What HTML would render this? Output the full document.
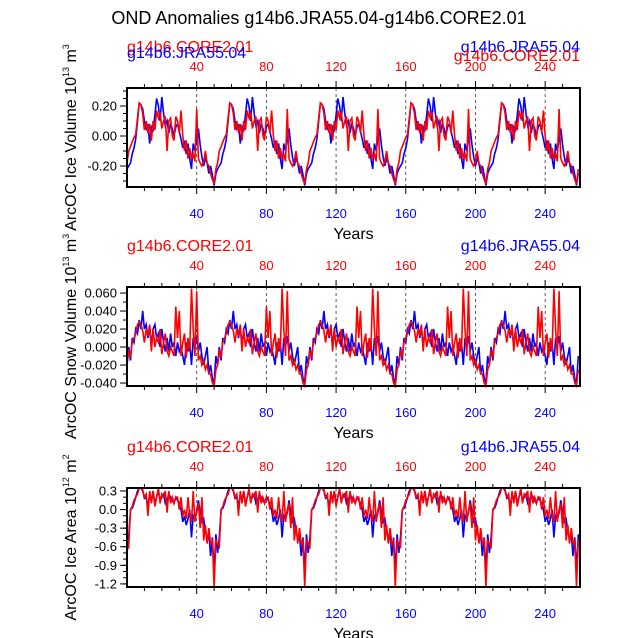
<!DOCTYPE html>
<html><head><meta charset="utf-8"><style>body{margin:0;background:#fff}svg{display:block}</style></head>
<body>
<svg id="c" width="638" height="638" xmlns="http://www.w3.org/2000/svg" font-family="Liberation Sans, sans-serif"></svg>
<script>
const years = Array.from({length:260},(_, i)=>i);
const xTicks = [40,80,120,160,200,240];
// one 52-year forcing cycle, starting at year 50 (repeats through the run)
const volJRA = [-0.33,-0.25,-0.22,-0.2,-0.18,-0.12,-0.08,-0.02,0.1,0.22,0.21,0.18,0.1,0.05,0.08,-0.05,0.06,0.04,0.14,0.25,0.2,0.1,0.26,0.15,0.07,0.1,0.02,0.08,0.05,0.0,0.06,0.08,0.03,-0.02,-0.08,-0.03,-0.12,-0.05,-0.15,-0.22,-0.05,-0.1,-0.02,0.05,-0.06,-0.14,-0.2,-0.15,-0.18,-0.25,-0.2,-0.26];
const volCORE = [-0.32,-0.22,-0.18,-0.1,-0.07,-0.04,-0.01,0.01,0.12,0.22,0.21,0.15,0.04,0.1,0.02,0.08,-0.03,0.1,0.04,0.17,0.12,0.16,0.05,0.1,0.13,-0.1,0.1,0.12,0.0,-0.03,0.13,0.1,0.02,0.17,0.0,-0.1,-0.03,-0.15,-0.08,-0.15,-0.12,-0.17,0.18,-0.15,-0.18,-0.2,-0.17,-0.1,-0.18,-0.2,-0.25,-0.29];
const snowJRA = [-0.04,-0.01,-0.02,0.0,-0.015,0.01,0.005,0.02,0.015,0.03,0.02,0.04,0.02,0.025,0.01,0.022,0.0,0.02,0.025,0.01,0.015,0.0,0.02,0.005,-0.005,0.01,-0.005,0.015,0.0,0.005,-0.01,0.005,-0.005,0.0,-0.01,-0.02,0.005,-0.005,0.005,-0.02,0.01,0.0,0.012,-0.005,0.005,-0.01,-0.02,-0.01,0.0,-0.03,-0.02,-0.035];
const snowCORE = [-0.045,-0.025,-0.02,-0.005,-0.01,0.005,0.01,0.015,0.025,0.028,0.025,0.018,0.005,0.02,0.012,0.025,-0.005,0.02,0.0,0.01,0.005,0.02,-0.008,0.005,0.015,-0.005,-0.01,0.0,-0.005,-0.01,0.045,0.01,0.04,-0.01,0.005,0.015,-0.012,0.01,-0.005,0.065,0.02,-0.01,0.062,-0.015,-0.01,-0.02,-0.015,-0.025,-0.02,-0.03,-0.03,-0.04];
const areaJRA = [-1.0,-0.4,-0.7,-0.45,0.0,0.02,0.1,0.2,0.3,0.35,0.35,0.3,0.18,0.2,0.05,0.25,0.15,0.3,0.1,0.2,0.3,0.15,0.2,0.25,0.1,0.15,0.25,0.2,0.15,0.1,0.2,0.15,0.1,0.0,-0.2,-0.1,-0.25,-0.15,0.0,-0.45,-0.1,-0.15,-0.05,0.15,-0.05,-0.2,-0.15,-0.35,-0.45,-0.4,-0.75,-0.45];
const areaCORE = [-1.25,-0.5,-0.55,-0.6,0.0,0.05,0.15,0.2,0.25,0.35,0.35,0.32,0.2,0.25,-0.1,0.3,0.1,0.3,0.05,0.2,0.35,0.1,0.25,0.2,0.3,-0.05,0.3,0.1,0.2,0.1,0.2,0.2,0.0,0.2,-0.1,0.0,-0.15,0.2,-0.1,-0.2,0.3,-0.2,0.0,0.1,-0.3,0.2,-0.5,-0.25,-0.55,-0.3,-0.55,-0.5];
const volTicks = [-0.2,0,0.2], volLabels=["-0.20","0.00","0.20"];
const snowTicks = [-0.04,-0.02,0,0.02,0.04,0.06], snowLabels=["-0.040","-0.020","0.000","0.020","0.040","0.060"];
const areaTicks = [-1.2,-0.9,-0.6,-0.3,0,0.3], areaLabels=["-1.2","-0.9","-0.6","-0.3","0.0","0.3"];

const NS="http://www.w3.org/2000/svg", svg=document.getElementById('c');
function mk(t,a,p){const e=document.createElementNS(NS,t);for(const k in a)e.setAttribute(k,a[k]);(p||svg).appendChild(e);return e;}
function full(cyc){return years.map(y=>cyc[(((y-50)%52)+52)%52]);}
const X0=127,X1=580,xs=y=>X0+(y-0)/(260-0)*(X1-X0);
const t=mk('text',{x:319,y:24,'text-anchor':'middle','font-size':18});t.textContent='OND Anomalies g14b6.JRA55.04-g14b6.CORE2.01';


function panel(name,top,ymin,ymax,ticks,labels,minorStep,ytitle,sup,sA,sB,stacked){
  const bot=top+99, ys=v=>bot-(v-ymin)/(ymax-ymin)*(bot-top);
  const g=mk('g',{});
  xTicks.forEach(v=>{const l=mk('line',{x1:xs(v),x2:xs(v),y1:top,y2:bot,stroke:'#333','stroke-width':0.8,'stroke-dasharray':'3,3'},g);
    });
  [[sB,'#00f'],[sA,'#f00']].forEach(([cyc,col])=>{const d=full(cyc);
    const p=mk('path',{d:d.map((v,i)=>(i?'L':'M')+xs(years[i]).toFixed(1)+','+ys(Math.max(ymin,Math.min(ymax,v))).toFixed(1)).join(''),fill:'none',stroke:col,'stroke-width':1.6},g);
    });
  const f=mk('rect',{x:X0,y:top,width:X1-X0,height:bot-top,fill:'none',stroke:'#000','stroke-width':2},g);
  
  for(let v=10;v<260;v+=10){const maj=v%40==0,L=maj?7:4;
    mk('line',{x1:xs(v),x2:xs(v),y1:top,y2:top-L,stroke:'#000','stroke-width':1},g);
    mk('line',{x1:xs(v),x2:xs(v),y1:bot,y2:bot+L,stroke:'#000','stroke-width':1},g);}
  xTicks.forEach(v=>{const a=mk('text',{x:xs(v),y:top-17,'text-anchor':'middle','font-size':13,fill:'#f00'},g);a.textContent=v;
    
    const b=mk('text',{x:xs(v),y:bot+31,'text-anchor':'middle','font-size':13,fill:'#00f'},g);b.textContent=v;
    });
  for(let v=Math.ceil(ymin/minorStep)*minorStep;v<=ymax+1e-9;v+=minorStep)mk('line',{x1:X0,x2:X0-4,y1:ys(v),y2:ys(v),stroke:'#000','stroke-width':1},g);
  ticks.forEach((v,i)=>{mk('line',{x1:X0,x2:X0-7,y1:ys(v),y2:ys(v),stroke:'#000','stroke-width':1},g);
    const a=mk('text',{x:X0-10,y:ys(v)+4.5,'text-anchor':'end','font-size':13},g);a.textContent=labels[i];
    });
  const yx=mk('text',{x:(X0+X1)/2,y:bot+52,'text-anchor':'middle','font-size':16},g);yx.textContent='Years';
  
  const yt=mk('text',{transform:`translate(76,${(top+bot)/2}) rotate(-90)`,'text-anchor':'middle','font-size':16},g);
  yt.innerHTML=ytitle+' 10<tspan font-size="9" dy="-7">'+sup+'</tspan><tspan dy="7"> m</tspan><tspan font-size="9" dy="-7">'+(sup=='12'?'2':'3')+'</tspan>';
  
  const ly=top-36;
  const l1=mk('text',{x:X0,y:ly,'font-size':16,fill:'#f00'},g);l1.textContent='g14b6.CORE2.01';
  
  const l2=mk('text',{x:X1,y:ly,'text-anchor':'end','font-size':16,fill:'#00f'},g);l2.textContent='g14b6.JRA55.04';
  
  if(stacked){const l3=mk('text',{x:X0,y:ly+6,'font-size':16,fill:'#00f'},g);l3.textContent='g14b6.JRA55.04';
    
    const l4=mk('text',{x:X1,y:ly+9,'text-anchor':'end','font-size':16,fill:'#f00'},g);l4.textContent='g14b6.CORE2.01';
    }
}
panel('ice-volume-panel',88,-0.34,0.32,volTicks,volLabels,0.05,'ArcOC Ice Volume','13',volCORE,volJRA,true);
panel('snow-volume-panel',287,-0.0433,0.0667,snowTicks,snowLabels,0.01,'ArcOC Snow Volume','13',snowCORE,snowJRA,false);
panel('ice-area-panel',488,-1.25,0.348,areaTicks,areaLabels,0.1,'ArcOC Ice Area','12',areaCORE,areaJRA,false);
</script>
</body></html>
